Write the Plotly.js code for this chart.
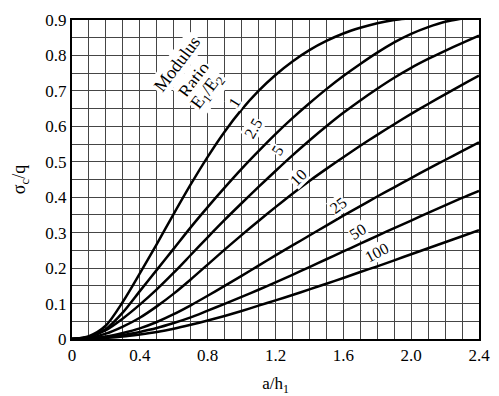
<!DOCTYPE html>
<html>
<head>
<meta charset="utf-8">
<script src="https://cdn.plot.ly/plotly-3.0.1.min.js"></script>
<style>html,body{margin:0;padding:0;background:#fff;}#chart{width:499px;height:396px;}</style>
</head>
<body>
<div id="chart"></div>
<script>
// a/h1 values
const xs = [0,0.1,0.2,0.3,0.4,0.5,0.6,0.7,0.8,0.9,1.0,1.1,1.2,1.3,1.4,1.5,1.6,1.7,1.8,1.9,2.0,2.1,2.2,2.3,2.4];
// sigma_c/q for each modulus ratio E1/E2
const r1   = [0,0.008,0.038,0.105,0.185,0.268,0.353,0.436,0.514,0.585,0.647,0.700,0.745,0.783,0.815,0.841,0.862,0.878,0.891,0.900,0.905];
const r2_5 = [0,0.006,0.028,0.075,0.135,0.195,0.255,0.315,0.372,0.427,0.480,0.530,0.578,0.623,0.665,0.705,0.742,0.776,0.808,0.837,0.861,0.880,0.895,0.904];
const r5   = [0,0.006,0.025,0.058,0.097,0.140,0.187,0.237,0.287,0.336,0.383,0.429,0.474,0.518,0.560,0.600,0.638,0.673,0.706,0.737,0.765,0.790,0.813,0.835,0.856];
const r10  = [0,0.003,0.015,0.035,0.060,0.092,0.128,0.168,0.210,0.252,0.293,0.333,0.372,0.410,0.446,0.480,0.513,0.545,0.576,0.606,0.635,0.663,0.690,0.717,0.743];
const r25  = [0,0.002,0.007,0.017,0.030,0.048,0.070,0.095,0.122,0.150,0.178,0.207,0.236,0.264,0.292,0.320,0.348,0.375,0.402,0.428,0.454,0.480,0.505,0.530,0.555];
const r50  = [0,0.001,0.005,0.011,0.020,0.031,0.045,0.061,0.080,0.099,0.119,0.139,0.160,0.181,0.203,0.225,0.247,0.269,0.291,0.313,0.334,0.356,0.377,0.398,0.418];
const r100 = [0,0.001,0.003,0.007,0.013,0.020,0.029,0.040,0.052,0.065,0.079,0.094,0.109,0.124,0.140,0.156,0.172,0.189,0.205,0.222,0.239,0.256,0.273,0.290,0.307];
const series = [r1, r2_5, r5, r10, r25, r50, r100];
const ratioLabels = ['1','2.5','5','10','25','50','100'];
// label anchors (a/h1, sigma_c/q) and angles
const labelX = [0.96,1.067,1.209,1.333,1.568,1.686,1.798];
const labelY = [0.666,0.595,0.533,0.457,0.378,0.302,0.243];
const labelAng = [-58,-60,-58,-45,-38,-32,-28];

const xTickVals = [0,0.4,0.8,1.2,1.6,2.0,2.4];
const xTickText = ['0','0.4','0.8','1.2','1.6','2.0','2.4'];
const yTickVals = [0,0.1,0.2,0.3,0.4,0.5,0.6,0.7,0.8,0.9];
const yTickText = ['0','0.1','0.2','0.3','0.4','0.5','0.6','0.7','0.8','0.9'];

const FONT = 'Liberation Serif';
const GRID = '#454545';

const traces = series.map((ys) => ({
  x: xs.slice(0, ys.length), y: ys, type: 'scatter', mode: 'lines',
  line: {color: '#000', width: 2.5, shape: 'spline', smoothing: 0.8},
  hoverinfo: 'skip', showlegend: false
}));

const annotations = ratioLabels.map((t, i) => ({
  x: labelX[i], y: labelY[i], xref: 'x', yref: 'y', text: t, showarrow: false,
  textangle: labelAng[i], font: {family: FONT, size: 16, color: '#000'},
  bgcolor: '#fff', borderpad: 0
}));
annotations.push(
  {x: 0.619, y: 0.776, xref:'x', yref:'y', text:'Modulus', showarrow:false, textangle:-53, font:{family:FONT,size:18,color:'#000'}, bgcolor:'#fff', borderpad:1},
  {x: 0.716, y: 0.732, xref:'x', yref:'y', text:'Ratio', showarrow:false, textangle:-53, font:{family:FONT,size:18,color:'#000'}, bgcolor:'#fff', borderpad:1},
  {x: 0.800, y: 0.697, xref:'x', yref:'y', text:'E<sub>1</sub>/E<sub>2</sub>', showarrow:false, textangle:-53, font:{family:FONT,size:18,color:'#000'}, bgcolor:'#fff', borderpad:1}
);

const layout = {
  width: 499, height: 396,
  margin: {l: 72, r: 20, t: 20, b: 57},
  paper_bgcolor: '#fff', plot_bgcolor: '#fff',
  font: {family: FONT, size: 17, color: '#000'},
  xaxis: {
    range: [0, 2.4], tickmode: 'array', tickvals: xTickVals, ticktext: xTickText,
    showgrid: true, gridcolor: GRID, gridwidth: 1, zeroline: false,
    minor: {dtick: 0.1, showgrid: true, gridcolor: GRID, gridwidth: 1, ticks: ''},
    showline: true, linecolor: '#000', linewidth: 2, mirror: true, ticks: '',
    tickfont: {family: FONT, size: 17, color: '#000'},
    title: {text: 'a/h<sub>1</sub>', font: {family: FONT, size: 17, color: '#000'}}
  },
  yaxis: {
    range: [0, 0.9], tickmode: 'array', tickvals: yTickVals, ticktext: yTickText,
    showgrid: true, gridcolor: GRID, gridwidth: 1, zeroline: false,
    minor: {dtick: 0.05, showgrid: true, gridcolor: GRID, gridwidth: 1, ticks: ''},
    showline: true, linecolor: '#000', linewidth: 2, mirror: true, ticks: '',
    tickfont: {family: FONT, size: 17, color: '#000'},
    title: {text: 'σ<sub>c</sub>/q', font: {family: FONT, size: 18, color: '#000'}}
  },
  annotations: annotations,
  showlegend: false
};

Plotly.newPlot('chart', traces, layout, {staticPlot: true, displayModeBar: false});
</script>
</body>
</html>
